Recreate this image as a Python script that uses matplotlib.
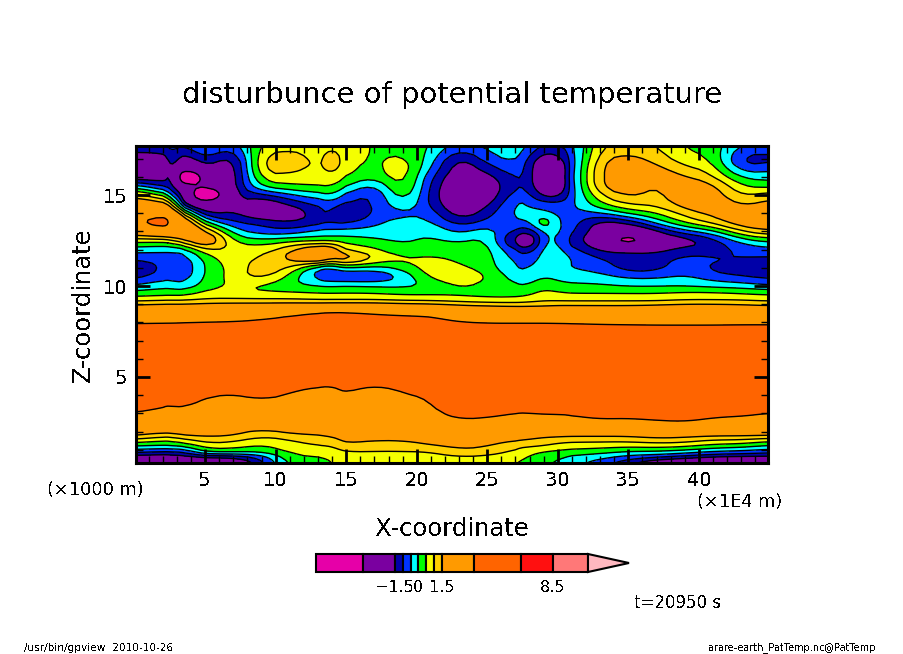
import numpy as np
import matplotlib
matplotlib.use("Agg")
import matplotlib.pyplot as plt

plt.rcParams["font.family"] = "DejaVu Sans"
plt.rcParams["text.antialiased"] = False
plt.rcParams["lines.antialiased"] = False

W, H = 904, 654

# contour levels and fill colours, as on the colour bar
levels = [-6.5, -3.5, -1.5, -1.0, -0.5, 0.0, 0.5, 1.0, 1.5, 3.5, 6.5, 8.5, 10.75]
colors = ["#e600a8", "#7a00a0", "#0000a8", "#0033ff", "#00ffff", "#00ff00",
          "#f5ff00", "#ffd000", "#ff9a00", "#ff6400", "#ff1010", "#ff7878"]
over_color = "#ffb8c0"
bar_labels = {-1.5: "\u22121.5", 0.0: "0", 1.5: "1.5", 8.5: "8.5"}

# grid
x_km = [0.1, 2, 2.7, 3.6, 5.1, 7, 9, 11, 13, 14, 15, 17, 19, 21, 23, 25, 27, 28, 29, 30, 31, 33, 35, 37, 39, 41, 43, 44.9]
z_km = [17.7, 17, 16.5, 16, 15.5, 15, 14.5, 14, 13.5, 13, 12.5, 12, 11.5, 11, 10.5, 10, 9.6, 9.2, 8.8,
        8.3, 7.4, 5.5, 4.8, 3.6, 2.2, 1.8, 1.5, 1.2, 0.9, 0.6, 0.25]

# potential temperature disturbance, one list per x position, top to bottom
t_x00 = [-1.0,-2.0,-2.2,-2.0,-0.3,1.3,2.2,2.5,3.4,2.0,0.7,-0.3,-0.9,-1.6,-1.2,-0.4,0.2,0.9,1.9,2.4,5,5,3.9,4.6,2.0,1.6,0.8,0.0,-0.8,-1.8,-2.5]
t_x02 = [-0.9,-2.0,-2.2,-1.9,-1.2,0.4,1.9,3.0,4.6,2.7,0.6,-0.4,-0.8,-0.85,-0.7,-0.1,0.3,1.0,2.0,2.5,5,5,3.9,3.93,2.1,1.2,0.5,-0.1,-1.0,-1.9,-2.5]
t_x027 = [-0.8,-1.1,-1.2,-1.2,-1.3,-0.6,1.0,2.4,3.2,2.6,0.9,-0.4,-0.8,-0.9,-0.75,-0.2,0.3,1.0,2.0,2.5,5,5,3.9,3.95,2.1,1.3,0.6,0.0,-0.95,-1.8,-2.5]
t_x03 = [-0.9,-2.0,-2.8,-6.5,-2.9,-1.9,-1.6,0.8,2.5,2.6,1.5,-0.3,-0.8,-0.9,-0.8,-0.3,0.3,1.0,2.0,2.6,5,5,3.9,4.0,2.1,1.5,0.8,0.1,-0.9,-1.7,-2.5]
t_x05 = [-0.3,-0.9,-1.5,-2.5,-3.2,-6.5,-2.6,-1.7,-0.1,1.7,2.6,1.0,0.2,0.1,0.15,0.3,0.7,1.1,2.1,2.7,5,5,3.9,3.46,2.1,1.6,1.2,0.75,0.2,-1.4,-2.4]
t_x07 = [-0.8,-2.0,-2.1,-2.0,-1.7,-1.35,-1.4,-1.4,-1.0,-0.3,0.4,0.9,0.9,0.7,0.7,0.6,0.7,1.1,2.2,2.8,5,5,3.9,3.27,2.0,1.5,1.1,0.7,0.2,-1.4,-2.4]
t_x09 = [0.6,1.25,1.25,0.85,0.2,-1.2,-2.2,-2.2,-1.1,-0.8,0.1,0.75,1.0,1.3,1.3,0.35,0.6,1.1,2.2,3.1,5,5,3.9,3.65,1.5,1.1,0.7,0.4,0.1,-0.8,-1.2]
t_x11 = [0.9,1.25,1.25,0.85,0.45,-0.6,-1.4,-2.2,-1.5,-0.9,0.4,1.4,1.7,1.1,0.3,0.1,0.6,1.1,2.3,3.5,5,5,3.9,3.26,2.0,1.3,1.0,0.8,0.6,0.4,0.2]
t_x13 = [0.85,0.85,0.85,0.7,0.55,-0.2,-0.9,-1.1,-1.2,-0.3,0.3,2.4,2.6,-0.7,-0.9,0.05,0.5,1.0,2.4,4.3,5,5,3.9,2.6,2.2,1.4,1.15,1.0,0.7,0.5,0.35]
t_x14 = [0.9,1.3,1.3,0.85,0.55,0,-0.75,-1.0,-1.1,-0.3,0.3,2.2,1.6,-0.7,-1.0,0,0.5,1.0,2.5,4.4,5,5,3.9,2.47,2.3,1.6,1.3,1.0,0.7,0.55,0.5]
t_x15 = [0.85,0.8,0.7,0.5,0.1,-0.7,-1.1,-2.0,-1.1,-0.3,0.3,0.9,2.2,-0.1,-1.1,0.1,0.5,1.0,2.5,4.4,5,5,3.9,3.36,2.4,1.8,1.6,1.45,1.0,0.7,0.6]
t_x17 = [0.4,0.35,0.25,0.05,-0.8,-1.2,-1.1,-0.8,-0.6,-0.3,0.1,0.6,1.0,-0.3,-1.1,0.0,0.5,1.0,2.5,3.9,5,5,3.9,2.3,2.4,1.8,1.5,1.2,1.0,0.75,0.6]
t_x19 = [0.3,0.7,1.0,1.0,0.95,0.6,0.05,-0.6,-0.3,-0.2,-0.1,0.1,0.6,0.2,-0.55,-0.1,0.4,0.9,2.3,3.7,5,5,3.9,3.26,2.4,1.8,1.5,1.2,1.0,0.75,0.6]
t_x21 = [0.05,-0.2,-0.5,-1.0,-1.2,-1.25,-1.1,-0.6,-0.4,0,0.1,0.3,0.6,0.85,0.7,0.0,0.4,0.9,2.2,3.5,5,5,3.9,3.49,2.4,1.9,1.7,1.45,1.0,0.75,0.6]
t_x23 = [-0.7,-1.8,-2.0,-2.0,-2.2,-2.3,-2.2,-2.0,-1.3,-0.7,-0.1,0.3,0.4,0.6,0.85,0.6,0.35,0.8,1.9,2.8,5,5,3.9,5.4,2.4,2.0,1.8,1.6,1.45,0.95,0.7]
t_x25 = [-0.3,-0.7,-1.2,-1.8,-2.1,-2.1,-1.7,-1.2,-0.8,-0.1,0.2,0.3,0.25,0.3,0.6,0.3,0.3,0.7,1.8,2.5,5,5,3.9,5.0,2.4,2.0,1.75,1.55,1.25,0.9,0.6]
t_x27 = [-0.2,-0.3,-0.6,-0.8,-0.9,-0.6,-0.3,-0.3,-0.6,-1.2,-2.0,-1.1,-0.7,-0.6,-0.3,0.05,0.3,0.7,1.7,2.5,5,5,3.9,4.4,2.3,1.9,1.5,1.1,0.9,0.7,0.5]
t_x28 = [-0.5,-1.2,-1.3,-1.3,-1.3,-0.9,-0.6,-0.3,-0.5,-1.4,-2.4,-1.3,-0.7,-0.5,-0.2,0.05,0.4,0.8,1.7,2.5,5,5,3.9,4.5,2.25,1.8,1.4,1.05,0.7,0.45,0.3]
t_x29 = [-1.0,-1.9,-2.2,-2.2,-2.1,-1.7,-0.7,-0.4,0.7,-0.4,-0.5,-0.3,-0.3,-0.3,0,0.3,0.7,0.9,1.7,2.5,5,5,3.9,4.66,2.2,1.7,1.25,1.0,0.5,0.2,0.1]
t_x30 = [-0.9,-1.8,-2.2,-2.2,-2.2,-1.7,-0.8,-0.6,-0.5,-0.4,-0.5,-0.35,-0.3,-0.35,-0.1,0.15,0.6,0.9,1.8,2.45,5,5,3.9,4.7,2.2,1.65,1.15,0.85,0.4,0.1,-0.1]
t_x31 = [-0.8,-0.9,-0.9,-0.8,-0.9,-0.8,-0.7,-0.6,-0.7,-0.8,-1.2,-0.8,-0.4,-0.55,-0.2,0.1,0.5,0.9,1.8,2.4,5,5,3.9,4.8,2.2,1.6,1.1,0.75,0.3,-0.1,-0.3]
t_x33 = [1.0,1.4,1.7,1.7,1.7,1.0,0.4,-0.6,-1.8,-2.0,-2.2,-1.6,-1.0,-0.7,-0.3,0.1,0.5,0.9,1.8,2.2,5,5,3.9,5.7,2.2,1.6,1.1,0.7,0.2,-0.3,-0.8]
t_x35 = [1.1,1.8,1.8,1.8,1.8,1.7,1.1,0.1,-1.4,-2.6,-5.2,-1.6,-1.2,-1.3,-0.6,0,0.5,0.9,1.8,2.1,5,5,3.9,5.45,2.2,1.6,1.1,0.6,0,-0.7,-1.4]
t_x37 = [1.0,1.3,1.7,1.9,1.4,1.3,1.1,0.5,-0.3,-1.6,-2.2,-1.7,-1.2,-1.2,-0.6,0,0.5,0.9,1.9,2.0,5,5,3.9,6.07,2.2,1.8,1.25,0.7,0,-0.9,-2.2]
t_x39 = [0.4,0.7,1.05,1.6,1.9,2.0,1.8,1.2,0.6,-0.7,-1.9,-1.3,-0.8,-0.7,-0.4,0,0.6,1.0,2.0,2.0,5,5,3.9,6.0,2.5,1.7,1.2,0.6,-0.2,-1.2,-2.5]
t_x41 = [0.3,0.5,0.8,1.1,1.7,1.9,2.1,1.7,1.2,-0.2,-1.3,-1.3,-0.9,-1.15,-0.8,-0.1,0.6,1.0,2.0,2.0,5,5,3.9,5.3,2.2,1.6,0.9,0.3,-0.5,-1.5,-2.6]
t_x43 = [-0.5,-1.3,-0.9,-0.1,0.5,0.9,1.4,1.9,2.0,1.0,-0.3,-0.9,-1.0,-1.3,-1.0,-0.2,0.5,1.0,1.9,2.1,5,5,3.9,5.0,2.2,1.6,0.9,0.2,-0.6,-1.6,-2.6]
t_x45 = [-0.7,-1.2,-0.7,-0.2,0.3,1.3,1.7,2.0,2.0,1.5,0.1,-0.7,-1.1,-1.3,-1.2,-0.4,0.4,0.9,1.8,2.1,5,5,3.9,4.5,2.2,1.55,0.6,-0.1,-0.8,-1.6,-2.6]

columns = [t_x00, t_x02, t_x027, t_x03, t_x05, t_x07, t_x09, t_x11, t_x13, t_x14, t_x15, t_x17, t_x19, t_x21,
           t_x23, t_x25, t_x27, t_x28, t_x29, t_x30, t_x31, t_x33, t_x35, t_x37, t_x39, t_x41, t_x43, t_x45]
theta = np.array(columns).T


def refine(values, n=4):
    # resample along the first axis and run a box over it, rounds the contour corners
    values = np.asarray(values, dtype=float)
    old = np.arange(values.shape[0])
    new = np.linspace(0, old[-1], old[-1] * n + 1)
    out = np.apply_along_axis(lambda v: np.interp(new, old, v), 0, values)
    pad = np.pad(out, [(n // 2, n // 2)] + [(0, 0)] * (out.ndim - 1), mode="edge")
    box = np.ones(n + 1) / (n + 1)
    return np.apply_along_axis(lambda v: np.convolve(v, box, mode="valid"), 0, pad)


def px_axes(fig, x0, y0, x1, y1):
    # axes box given in pixels from the top left
    return fig.add_axes([x0 / W, 1 - y1 / H, (x1 - x0) / W, (y1 - y0) / H])


def px_text(fig, x, y, s, **kw):
    fig.text(x / W, 1 - y / H, s, va="center", **kw)


fig = plt.figure(figsize=(W / 100, H / 100), dpi=100)

# main contour panel
x_fine = np.interp(np.linspace(0, len(x_km) - 1, (len(x_km) - 1) * 4 + 1), np.arange(len(x_km)), x_km)
z_fine = np.interp(np.linspace(0, len(z_km) - 1, (len(z_km) - 1) * 4 + 1), np.arange(len(z_km)), z_km)
theta_fine = refine(refine(theta).T).T

ax = px_axes(fig, 136, 146, 768, 463)
ax.contourf(x_fine, z_fine, theta_fine, levels=levels, colors=colors, extend="neither")
ax.contour(x_fine, z_fine, theta_fine, levels=levels, colors="black", linewidths=1.0, linestyles="solid")
ax.set_xlim(0.1, 44.9)
ax.set_ylim(0.27, 17.7)
ax.set_xticks([5, 10, 15, 20, 25, 30, 35, 40])
ax.set_xticks(np.arange(1, 45), minor=True)
ax.set_yticks([5, 10, 15])
ax.set_yticks(np.arange(1, 18), minor=True)
ax.tick_params(which="major", direction="in", length=10, width=2, top=True, right=True, labelsize=14, pad=6)
ax.tick_params(which="minor", direction="in", length=5, width=1, top=True, right=True)
for side in ax.spines.values():
    side.set_linewidth(2.2)

# axis titles and notes
px_text(fig, 452, 95, "disturbunce of potential temperature", ha="center", fontsize=20.9)
px_text(fig, 452, 529, "X-coordinate", ha="center", fontsize=17.5)
px_text(fig, 83, 305, "Z-coordinate", ha="center", rotation=90, fontsize=17.5)
px_text(fig, 47, 490, "(\u00d71000 m)", ha="left", fontsize=12.8)
px_text(fig, 697, 502, "(\u00d71E4 m)", ha="left", fontsize=12.8)
px_text(fig, 634, 603, "t=20950 s", ha="left", fontsize=12)
px_text(fig, 24, 648, "/usr/bin/gpview  2010-10-26", ha="left", fontsize=7.6)
px_text(fig, 708, 648, "arare-earth_PatTemp.nc@PatTemp", ha="left", fontsize=7)

# colour bar, linear in value
tip = 2.6
cax = px_axes(fig, 316, 554, 629, 572)
cax.set_xlim(levels[0], levels[-1] + tip)
cax.set_ylim(0, 1)
cax.axis("off")
for i, c in enumerate(colors):
    cax.barh(0.5, levels[i + 1] - levels[i], left=levels[i], height=1, color=c,
             edgecolor="black", linewidth=1.5, clip_on=False)
cax.fill([levels[-1], levels[-1] + tip, levels[-1]], [0, 0.5, 1], facecolor=over_color,
         edgecolor="black", linewidth=1.5, clip_on=False)
for v, s in bar_labels.items():
    cax.text(v, -0.85, s, ha="center", va="center", fontsize=11.5)

fig.savefig("out.png", dpi=100)
